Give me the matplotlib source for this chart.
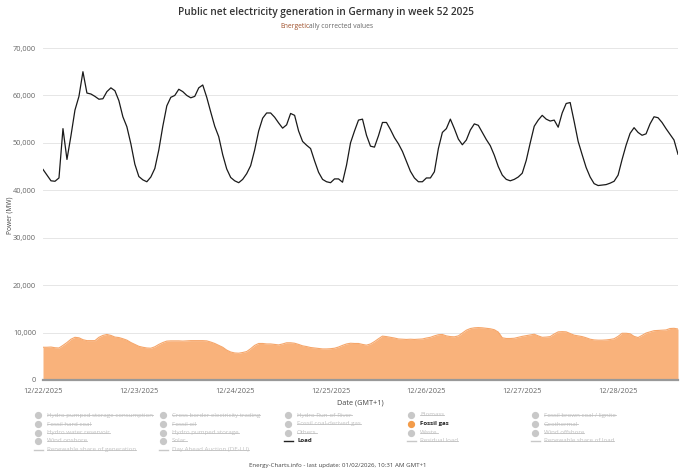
import numpy as np
import pandas as pd
import matplotlib
matplotlib.use("Agg")
import matplotlib.pyplot as plt
from matplotlib.lines import Line2D
from matplotlib.ticker import FuncFormatter

plt.rcParams['font.family'] = ['Open Sans', 'DejaVu Sans']

# hourly values, week 52 2025, starting 12/22/2025 00:00 (GMT+1)
load_mw = [
    44400, 43200, 42000, 41900, 42600, 53000, 46500, 51500, 56900, 59800,
    65000, 60500, 60300, 59800, 59200, 59300, 60800, 61600, 61000, 58900,
    55500, 53400, 49800, 45500, 42900, 42200, 41800, 42800, 44600, 48500,
    53500, 57800, 59600, 60000, 61300, 60800, 60000, 59500, 59800, 61600,
    62200, 59600, 56500, 53500, 51300, 47500, 44500, 42700, 42000, 41600,
    42300, 43500, 45200, 48500, 52500, 55200, 56300, 56300, 55400, 54200,
    53100, 53800, 56200, 55800, 52500, 50300, 49500, 48800, 46200, 43800,
    42300, 41800, 41600, 42400, 42400, 41700, 45300, 50000, 52500, 54800,
    55000, 51600, 49300, 49100, 51500, 54300, 54300, 52800, 51100, 49800,
    48200, 46100, 44000, 42600, 41800, 41800, 42600, 42600, 43900, 48800,
    52200, 53000, 55000, 53000, 50800, 49600, 50600, 52700, 54000, 53700,
    52200, 50700, 49400, 47400, 45000, 43200, 42300, 42000, 42300, 42800,
    43600, 46300, 50000, 53500, 54800, 55800, 55000, 54600, 54800, 53300,
    56300, 58300, 58500, 54500, 50300, 47500, 44800, 42800, 41400, 41000,
    41100, 41200, 41500, 41900, 43200, 46500, 49500, 52000, 53200, 52200,
    51600, 51900, 54000, 55500, 55300, 54300, 53000, 51800, 50600, 47600,
]

fossil_gas_mw = [
    6900, 6900, 6950, 6800, 6750, 7300, 7900, 8600, 9000, 8900,
    8500, 8300, 8300, 8300, 9000, 9400, 9600, 9400, 9050, 8950,
    8700, 8400, 7900, 7500, 7100, 6900, 6750, 6700, 7000, 7500,
    7900, 8200, 8250, 8250, 8250, 8200, 8250, 8300, 8300, 8300,
    8300, 8250, 8000, 7700, 7300, 6900, 6300, 5900, 5700, 5650,
    5800, 6000, 6600, 7300, 7700, 7700, 7600, 7600, 7500, 7400,
    7600, 7850, 7850, 7750, 7500, 7200, 7050, 6850, 6750, 6650,
    6550, 6550, 6600, 6700, 6950, 7300, 7600, 7750, 7700, 7700,
    7500, 7350, 7600, 8100, 8700, 9250, 9150, 9000, 8850, 8650,
    8600, 8550, 8600, 8550, 8600, 8650, 8850, 9000, 9300, 9550,
    9600, 9300, 9150, 9100, 9300, 9900, 10500, 10850, 11000, 11050,
    11000, 10900, 10800, 10600, 10100, 8900, 8750, 8750, 8800, 9000,
    9200, 9350, 9500, 9650, 9300, 9000, 9050, 9150, 9700, 10150,
    10200, 10150, 9800, 9450, 9300, 9150, 8900, 8600, 8450, 8400,
    8400, 8450, 8550, 8700, 9200, 9850, 9850, 9750, 9200, 8950,
    9400, 9900, 10150, 10400, 10450, 10500, 10550, 10850, 10900, 10750,
]

day_labels = ["12/22/2025", "12/23/2025", "12/24/2025", "12/25/2025",
              "12/26/2025", "12/27/2025", "12/28/2025"]

legend_rows = [
    ["Hydro pumped storage consumption", "Cross border electricity trading",
     "Hydro Run-of-River", "Biomass", "Fossil brown coal / lignite"],
    ["Fossil hard coal", "Fossil oil", "Fossil coal-derived gas",
     "Fossil gas", "Geothermal"],
    ["Hydro water reservoir", "Hydro pumped storage", "Others", "Waste",
     "Wind offshore"],
    ["Wind onshore", "Solar", "Load", "Residual load",
     "Renewable share of load"],
    ["Renewable share of generation", "Day Ahead Auction (DE-LU)"],
]
line_items = ["Load", "Residual load", "Renewable share of load",
              "Renewable share of generation", "Day Ahead Auction (DE-LU)"]
active_items = {"Load": "#222222", "Fossil gas": "#f39c4a"}

times = pd.date_range("2025-12-22 00:00", periods=len(load_mw), freq="h")
hours = (times - times[0]) / pd.Timedelta(hours=1)

W, H = 690, 474
fig = plt.figure(figsize=(W / 100, H / 100), dpi=100)
ax = fig.add_axes([43 / W, 1 - 380 / H, (678 - 43) / W, (380 - 48) / H])

ax.fill_between(hours, 0, fossil_gas_mw, color="#f9b27b", lw=0, zorder=2)
ax.plot(hours, fossil_gas_mw, color="#f6a66a", lw=0.8, zorder=3)
ax.plot(hours, load_mw, color="#1a1a1a", lw=0.9, zorder=4)

ax.set_xlim(hours[0], hours[-1])
ax.set_ylim(0, 70000)
ax.set_yticks(np.arange(0, 70001, 10000))
ax.yaxis.set_major_formatter(FuncFormatter(lambda v, p: f"{int(v):,}"))
ax.set_xticks(np.arange(len(day_labels)) * 24)
ax.set_xticklabels(day_labels)
ax.tick_params(axis="both", length=0, labelsize=5.3, colors="#666666")
ax.tick_params(axis="x", pad=6)
ax.tick_params(axis="y", pad=5)
ax.grid(axis="y", color="#e6e6e6", lw=0.7, zorder=0)
for s in ["top", "right", "left"]:
    ax.spines[s].set_visible(False)
ax.spines["bottom"].set_color("#999999")
ax.spines["bottom"].set_linewidth(1.6)
ax.spines["bottom"].set_zorder(5)

fig.text(10 / W, 1 - 215 / H, "Power (MW)", rotation=90, ha="center",
         va="center", fontsize=4.8, color="#444444")
fig.text(360 / W, 1 - 403 / H, "Date (GMT+1)", ha="center", va="center",
         fontsize=5.2, color="#444444")

fig.text(326 / W, 1 - 12 / H, "Public net electricity generation in Germany in week 52 2025",
         ha="center", va="center", fontsize=7.3, color="#333333", weight="semibold")
t1 = fig.text(280 / W, 1 - 26 / H, "Energetic", ha="left", va="center",
              fontsize=4.85, color="#a0522d")
t2 = fig.text(0, 1 - 26 / H, "ally corrected values", ha="left", va="center",
              fontsize=4.85, color="#666666")

fig.text(338 / W, 1 - 465 / H,
         "Energy-Charts.info - last update: 01/02/2026, 10:31 AM GMT+1",
         ha="center", va="center", fontsize=4.4, color="#444444")

# legend, drawn by hand in a 5 column grid
col_x = [38, 163, 288, 411, 535]
row_y = [415, 424, 432.5, 441, 449.5]
legend_texts = []
for r, row in enumerate(legend_rows):
    for c, name in enumerate(row):
        x, y = col_x[c], row_y[r]
        active = name in active_items
        col = active_items.get(name, "#c8c8c8")
        if name in line_items:
            fig.add_artist(Line2D([(x - 4) / W, (x + 5) / W],
                                  [1 - y / H, 1 - y / H], color=col, lw=1.0))
        else:
            fig.add_artist(Line2D([x / W], [1 - y / H], marker="o",
                                  markersize=4.2, color=col, lw=0))
        txt = fig.text((x + 9) / W, 1 - y / H, name, ha="left", va="center",
                       fontsize=4.4, color="#222222" if active else "#c0c0c0",
                       weight="bold" if active else "normal")
        if not active:
            legend_texts.append(txt)

fig.canvas.draw()
r = fig.canvas.get_renderer()
bb = t1.get_window_extent(r)
t2.set_x(bb.x1 / W)
for txt in legend_texts:
    bb = txt.get_window_extent(r)
    ym = (bb.y0 + bb.y1) / 2 / H
    fig.add_artist(Line2D([bb.x0 / W, bb.x1 / W], [ym, ym],
                          color="#c0c0c0", lw=0.6))

fig.savefig("out.png", dpi=100)
